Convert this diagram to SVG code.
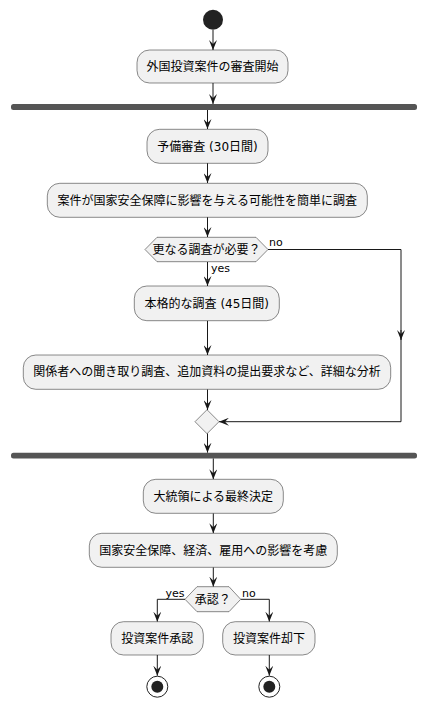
<svg xmlns="http://www.w3.org/2000/svg" width="427" height="707" viewBox="0 0 427 707">
<style>
.box{fill:#F1F1F1;stroke:#181818;stroke-width:0.5}
.bar{fill:#555555;stroke:none}
.t{font-family:"DejaVu Sans","Noto Sans CJK JP",sans-serif;font-size:12px;fill:#000000;text-anchor:middle}
.lbl{font-family:"DejaVu Sans","Noto Sans CJK JP",sans-serif;font-size:11px;fill:#000000}
.c{fill:none;stroke:#181818;stroke-width:1}
</style>
<defs>
<marker id="ah" markerUnits="userSpaceOnUse" markerWidth="10" markerHeight="8" refX="10" refY="4" orient="auto" viewBox="0 0 10 8">
<path d="M0,0 L10,4 L0,8 L4,4 Z" fill="#181818"/>
</marker>
</defs>
<g id="connectors">
<path class="c" d="M213,30 L213,50" marker-end="url(#ah)"/>
<path class="c" d="M213,83 L213,104" marker-end="url(#ah)"/>
<path class="c" d="M207.5,110 L207.5,129" marker-end="url(#ah)"/>
<path class="c" d="M207.5,163 L207.5,183" marker-end="url(#ah)"/>
<path class="c" d="M207.5,217 L207.5,237" marker-end="url(#ah)"/>
<path class="c" d="M207.5,262 L207.5,286" marker-end="url(#ah)"/>
<path class="c" d="M268,249.5 L401,249.5 L401,340"/>
<path class="c" d="M401,330 L401,340" marker-end="url(#ah)"/>
<path class="c" d="M401,340 L401,421.7 L219,421.7" marker-end="url(#ah)"/>
<path class="c" d="M207.5,320.7 L207.5,355" marker-end="url(#ah)"/>
<path class="c" d="M207.5,389.3 L207.5,410" marker-end="url(#ah)"/>
<path class="c" d="M207.5,433.3 L207.5,452.7" marker-end="url(#ah)"/>
<path class="c" d="M213.3,458.3 L213.3,479.3" marker-end="url(#ah)"/>
<path class="c" d="M213.3,513.3 L213.3,533.3" marker-end="url(#ah)"/>
<path class="c" d="M213.3,567.3 L213.3,586.7" marker-end="url(#ah)"/>
<path class="c" d="M185,599.3 L157.3,599.3 L157.3,621.7" marker-end="url(#ah)"/>
<path class="c" d="M240.7,599.3 L269.3,599.3 L269.3,621.7" marker-end="url(#ah)"/>
<path class="c" d="M157.3,655 L157.3,675.7" marker-end="url(#ah)"/>
<path class="c" d="M269.3,655 L269.3,675.7" marker-end="url(#ah)"/>
<text class="lbl" x="269" y="246">no</text>
<text class="lbl" x="211" y="272">yes</text>
<text class="lbl" x="165.5" y="596.5">yes</text>
<text class="lbl" x="242" y="596.5">no</text>
</g>
<g id="start"><circle cx="213" cy="19.7" r="10" fill="#222222"/></g>
<g id="n1"><rect class="box" x="137" y="50" width="151" height="33" rx="12.5"/><text class="t" x="212.5" y="70.8">外国投資案件の審査開始</text></g>
<g id="fork1"><rect class="bar" x="11" y="104" width="406" height="6" rx="2.5"/></g>
<g id="n2"><rect class="box" x="147" y="129.3" width="121" height="34" rx="12.5"/><text class="t" x="207.5" y="150.5">予備審査 (30日間)</text></g>
<g id="n3"><rect class="box" x="47.3" y="183.3" width="320" height="34" rx="12.5"/><text class="t" x="207.3" y="204.5">案件が国家安全保障に影響を与える可能性を簡単に調査</text></g>
<g id="d1"><polygon class="box" points="145,249.5 157,237.3 256,237.3 268,249.5 256,261.7 157,261.7"/><text class="t" x="206.5" y="253.8">更なる調査が必要？</text></g>
<g id="n4"><rect class="box" x="134.3" y="286" width="145" height="34.7" rx="12.5"/><text class="t" x="206.8" y="307.5">本格的な調査 (45日間)</text></g>
<g id="n5"><rect class="box" x="23.3" y="355" width="367.4" height="34.3" rx="12.5"/><text class="t" x="207" y="376.3">関係者への聞き取り調査、追加資料の提出要求など、詳細な分析</text></g>
<g id="m1"><polygon class="box" points="195,421.7 207,409.7 219,421.7 207,433.7"/></g>
<g id="fork2"><rect class="bar" x="11" y="452.7" width="406" height="5.7" rx="2.5"/></g>
<g id="n6"><rect class="box" x="143.3" y="479.3" width="140" height="34" rx="12.5"/><text class="t" x="213.3" y="500.5">大統領による最終決定</text></g>
<g id="n7"><rect class="box" x="89.3" y="533.3" width="248" height="34" rx="12.5"/><text class="t" x="213.3" y="554.5">国家安全保障、経済、雇用への影響を考慮</text></g>
<g id="d2"><polygon class="box" points="185,599.3 197,586.7 229,586.7 240.7,599.3 229,611.7 197,611.7"/><text class="t" x="212.8" y="603.6">承認？</text></g>
<g id="n8"><rect class="box" x="111" y="621.7" width="92.3" height="33.3" rx="12.5"/><text class="t" x="157.2" y="642.7">投資案件承認</text></g>
<g id="n9"><rect class="box" x="222.7" y="621.7" width="92.3" height="33.3" rx="12.5"/><text class="t" x="268.9" y="642.7">投資案件却下</text></g>
<g id="end1"><circle cx="157.3" cy="686.7" r="10.5" fill="none" stroke="#222222" stroke-width="1"/><circle cx="157.3" cy="686.7" r="6" fill="#222222"/></g>
<g id="end2"><circle cx="269.3" cy="686.7" r="10.5" fill="none" stroke="#222222" stroke-width="1"/><circle cx="269.3" cy="686.7" r="6" fill="#222222"/></g>
</svg>
